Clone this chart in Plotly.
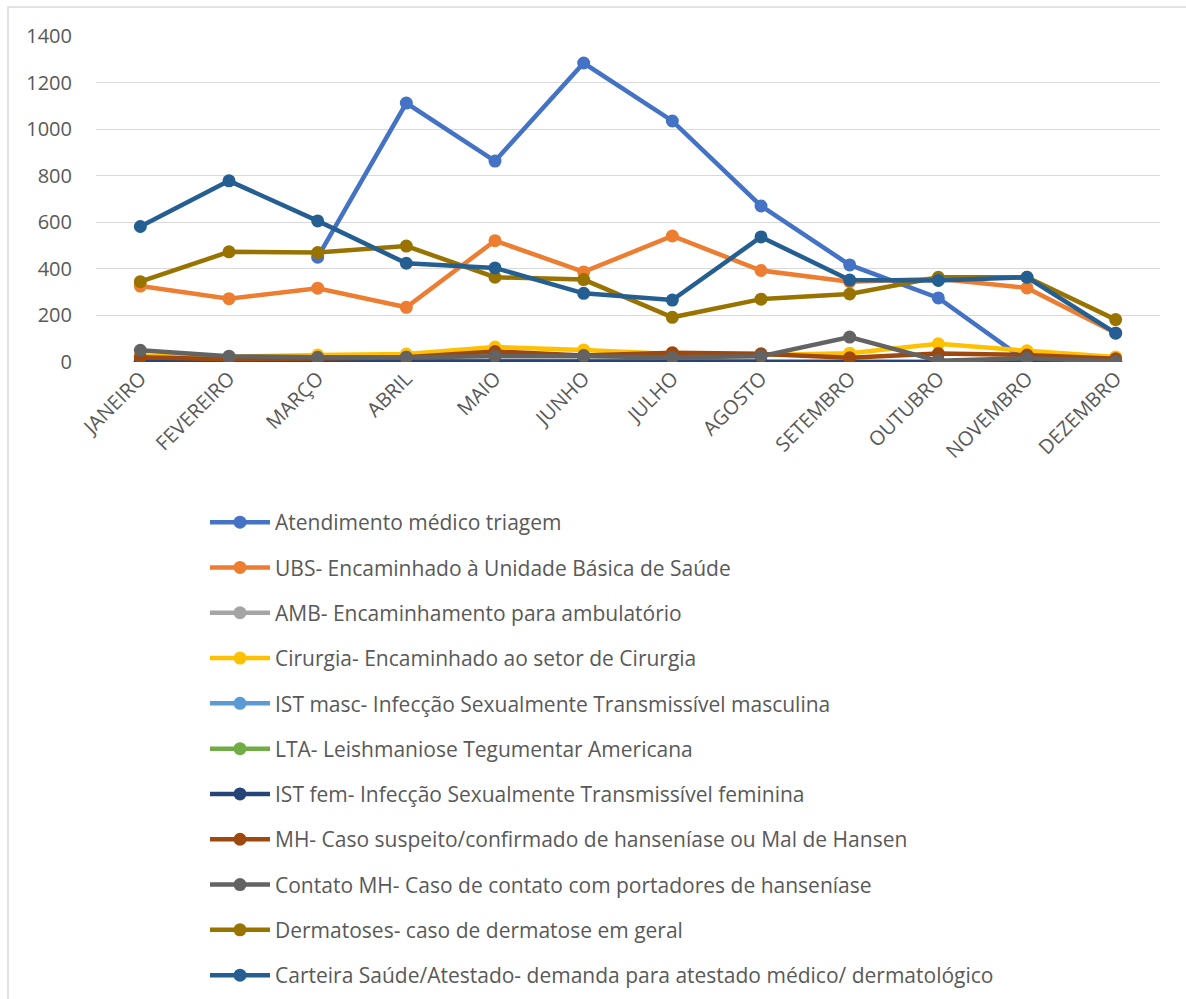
import plotly.graph_objects as go

# Months on the category axis
months = ["JANEIRO", "FEVEREIRO", "MARÇO", "ABRIL", "MAIO", "JUNHO",
          "JULHO", "AGOSTO", "SETEMBRO", "OUTUBRO", "NOVEMBRO", "DEZEMBRO"]

# Monthly counts per type of demand
atendimento = [None, None, 450, 1112, 863, 1284, 1035, 670, 417, 275, 2, 0]
ubs = [326, 272, 317, 235, 521, 387, 541, 393, 345, 357, 318, 125]
amb = [4, 3, 2, 3, 4, 3, 2, 3, 2, 2, 3, 1]
cirurgia = [28, 22, 30, 34, 64, 52, 34, 30, 38, 78, 48, 22]
ist_masc = [1, 1, 0, 1, 1, 1, 0, 1, 0, 1, 1, 0]
lta = [0, 0, 1, 0, 0, 1, 0, 0, 0, 1, 0, 0]
ist_fem = [2, 2, 1, 2, 2, 3, 2, 2, 1, 5, 2, 1]
mh = [20, 12, 15, 20, 45, 28, 40, 35, 18, 36, 30, 14]
contato_mh = [50, 25, 20, 20, 25, 25, 20, 25, 107, 5, 16, 3]
dermatoses = [345, 473, 470, 498, 364, 354, 192, 270, 292, 364, 364, 182]
carteira = [582, 778, 606, 424, 404, 295, 266, 537, 352, 350, 364, 124]

y_ticks = [0, 200, 400, 600, 800, 1000, 1200, 1400]

series = [
    ("Atendimento médico triagem", atendimento, "#4472C4"),
    ("UBS- Encaminhado à Unidade Básica de Saúde", ubs, "#ED7D31"),
    ("AMB- Encaminhamento para ambulatório", amb, "#A5A5A5"),
    ("Cirurgia- Encaminhado ao setor de Cirurgia", cirurgia, "#FFC000"),
    ("IST masc- Infecção Sexualmente Transmissível masculina", ist_masc, "#5B9BD5"),
    ("LTA- Leishmaniose Tegumentar Americana", lta, "#70AD47"),
    ("IST fem- Infecção Sexualmente Transmissível feminina", ist_fem, "#264478"),
    ("MH- Caso suspeito/confirmado de hanseníase ou Mal de Hansen", mh, "#9E480E"),
    ("Contato MH- Caso de contato com portadores de hanseníase", contato_mh, "#636363"),
    ("Dermatoses- caso de dermatose em geral", dermatoses, "#997300"),
    ("Carteira Saúde/Atestado- demanda para atestado médico/ dermatológico", carteira, "#255E91"),
]

W, H = 1186, 999
L, R, T, B = 96, 26, 36, 637
FONT = "Open Sans, Lato, sans-serif"

fig = go.Figure()
for i, (name, vals, color) in enumerate(series):
    fig.add_trace(go.Scatter(
        x=months, y=vals, name=name, mode="lines+markers",
        line=dict(color=color, width=4.5),
        marker=dict(color=color, size=13),
        legendgroup=f"g{i}",
        connectgaps=False,
    ))

plot_w = W - L - R
plot_h = H - T - B


def px_x(px):
    return (px - L) / plot_w


def px_y(py):
    return (H - B - py) / plot_h


fig.update_layout(
    width=W, height=H,
    margin=dict(l=L, r=R, t=T, b=B, autoexpand=False),
    paper_bgcolor="white", plot_bgcolor="white",
    font=dict(family=FONT, color="#595959", size=20),
    showlegend=True,
    legend=dict(
        xref="container", yref="container",
        x=205 / W, y=1 - 502 / H, xanchor="left", yanchor="top",
        orientation="v", tracegroupgap=15,
        font=dict(family=FONT, size=21, color="#595959"),
        itemwidth=60,
        bgcolor="rgba(0,0,0,0)",
    ),
    shapes=[
        # outer chart frame (extends past the right and bottom edges)
        dict(type="rect", xref="paper", yref="paper",
             x0=px_x(8), x1=px_x(1300), y0=px_y(1100), y1=px_y(7),
             line=dict(color="#D9D9D9", width=1.5), fillcolor="rgba(0,0,0,0)",
             layer="below"),
    ],
)

fig.update_xaxes(
    type="category", range=[-0.5, len(months) - 0.5], tickangle=-45,
    showgrid=False, showline=False, ticks="", automargin=False,
    tickfont=dict(family=FONT, size=20, color="#595959"), zeroline=False,
)
fig.update_yaxes(
    range=[0, 1400], tickvals=y_ticks, showgrid=True, gridcolor="#D9D9D9",
    gridwidth=1.3, zeroline=False, showline=False, ticks="", automargin=False,
    tickfont=dict(family=FONT, size=20, color="#595959"), ticklabelstandoff=23,
)

fig.write_html("out.html")
